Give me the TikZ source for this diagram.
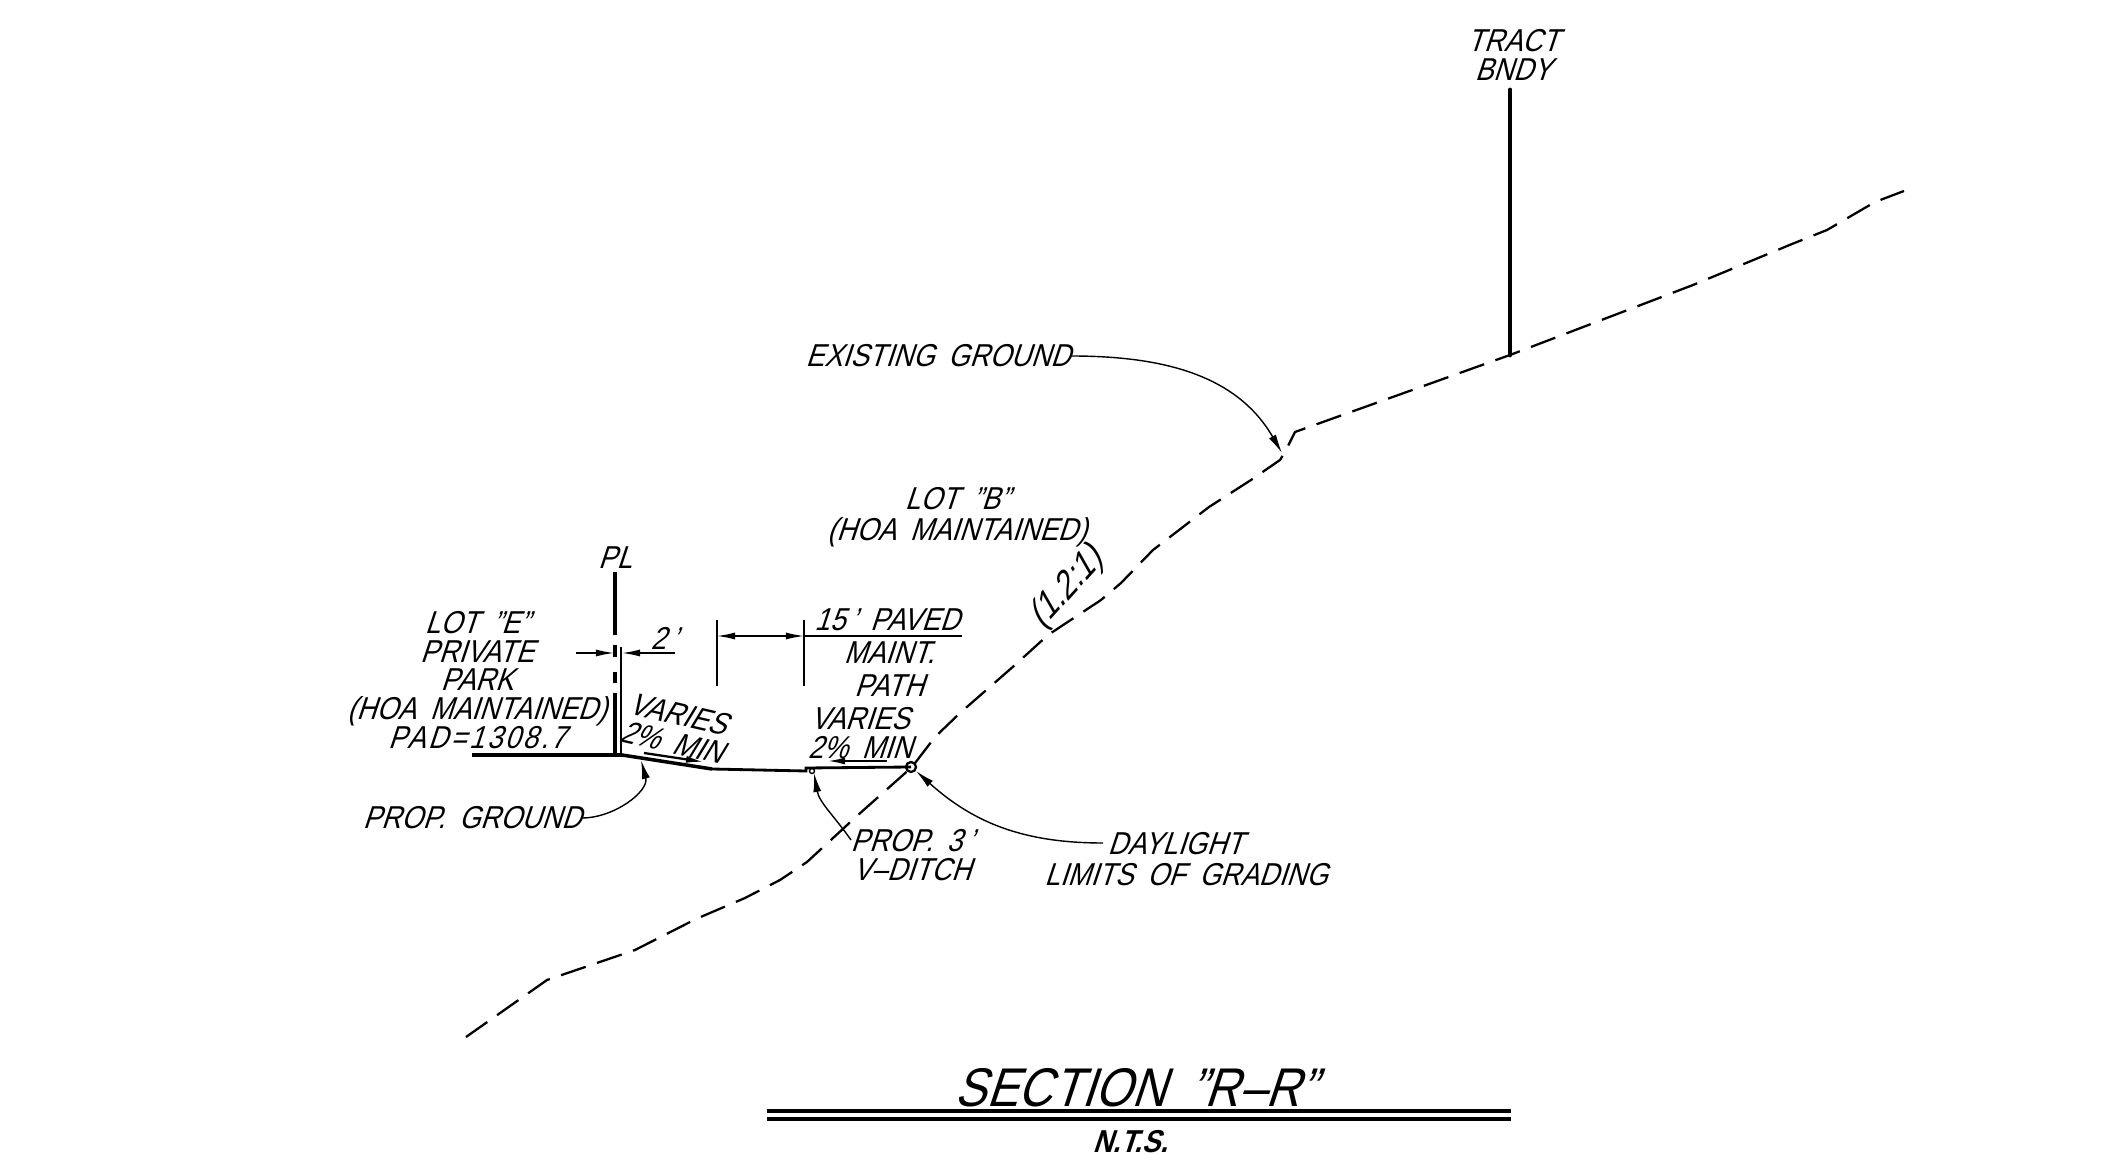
\documentclass[tikz,border=0pt]{standalone}
\usepackage{fontspec}
\usetikzlibrary{arrows.meta}
\newfontfamily\cadfont[FakeSlant=0.33,FakeStretch=0.87,WordSpace=1.8]{Liberation Sans}

\tikzset{
	lbl/.style={font=\cadfont\fontsize{9}{8.2}\selectfont, inner sep=0pt, align=center},
	bigLbl/.style={font=\cadfont\fontsize{15.5}{16}\selectfont, inner sep=0pt},
	boldLbl/.style={font=\cadfont\bfseries\fontsize{9}{10}\selectfont, inner sep=0pt},
	thin line/.style={line width=.4pt},
	mid line/.style={line width=.65pt},
	thick line/.style={line width=1pt},
	leader/.style={thin line, -{Latex[length=1.9mm,width=.8mm]}},
	dim/.style={thin line, -{Latex[length=1.8mm,width=.7mm]}},
	gnd/.style={mid line, dash pattern=on 7.4pt off 3.4pt}
}

\begin{document}
\begin{tikzpicture}[x=0.01cm, y=-0.01cm]
	\useasboundingbox (0,0) rectangle (2120,1155);

	\node [lbl] (tract)  at (1513,55)  {TRACT\\BNDY};
	\node [lbl] (pl)     at (615,558)  {PL};
	\node [lbl] (lotE)   at (477,680)  {LOT ”E”\\PRIVATE\\PARK\\(HOA MAINTAINED)\\{\addfontfeature{LetterSpace=8}PAD=1308.7}};
	\node [lbl] (lotB)   at (957,517)  {LOT ”B”\\[.6pt](HOA MAINTAINED)};
	\node [lbl] (exist)  at (938,356)  {EXISTING GROUND};
	\node [lbl] (prop)   at (472,818)  {PROP. GROUND};
	\node [lbl] (two)    at (664,638)  {2\,’};
	\node [lbl] (paved)  at (887,620)  {15\,’ PAVED};
	\node [lbl] (maint)  at (889,669)  {MAINT.\\[1pt]PATH};
	\node [lbl, rotate=-13] (varL) at (675,728) {VARIES\\2\% MIN};
	\node [lbl] (varR)   at (860,733)  {VARIES\\2\% MIN};
	\node [lbl] (ditch)  at (912,855)  {PROP. 3\,’\\V–DITCH};
	\node [lbl] (day)    at (1186,859) {DAYLIGHT\hspace*{6pt}\\[.6pt]LIMITS OF GRADING};
	\node [lbl, font=\cadfont\fontsize{10.5}{10}\selectfont, rotate=48] (slope) at (1066,589) {(1.2:1)};
	\node [bigLbl] (title) at (1135,1088) {SECTION ”R–R”};
	\node [boldLbl] (nts)  at (1130,1142) {N.T.S.};

	\coordinate (exTip)    at (1282,453);
	\coordinate (propTip)  at (641,760);
	\coordinate (ditchEnd) at (851,840);
	\coordinate (ditchTip) at (814,773);
	\coordinate (dayEnd)   at (1103,843);
	\coordinate (dayTip)   at (916,771);

	\draw [gnd] (466,1037) -- (547,980) -- (635,950) -- (696,919) -- (745,898) -- (780,880) -- (807,862) -- (858,815)
		-- (912,767) -- (935,737) -- (960,713) -- (1015,665) -- (1048,635) -- (1101,600) -- (1121,583) -- (1153,550)
		-- (1209,507) -- (1251,480) -- (1280,460)
		-- (1285,452) -- (1295,432) -- (1510,355) -- (1693,285) -- (1792,244) -- (1827,230) -- (1875,202) -- (1904,191);

	\draw [thick line, line width=1.4pt, line cap=round] (1510,90) -- (1510,355);

	\draw [thick line] (615,572) -- (615,635);
	\draw [thick line] (615,645) -- (615,657);
	\draw [thick line] (615,672) -- (615,683);
	\draw [thick line] (615,693) -- (615,755);
	\draw [thin line] (621,647) -- (621,755);
	\draw [thick line] (472,755) -- (622,755) -- (712,769);
	\draw [line width=.8pt] (712,769) -- (806,771) -- (806,768) -- (911,767);

	\node [draw, circle, mid line, minimum size=.1cm, inner sep=0pt] (day pt) at (911,767) {};
	\node [draw, circle, thin line, minimum size=.05cm, inner sep=0pt] (ditch pt) at (812,771) {};

	\coordinate (twoA) at (576,653);
	\coordinate (twoB) at (614,653);
	\coordinate (twoC) at (675,653);
	\coordinate (twoD) at (622,653);
	\draw [dim] (twoA) -- (twoB);
	\draw [dim] (twoC) -- (twoD);

	\coordinate (pathA) at (717,620);
	\coordinate (pathB) at (804,620);
	\draw [thin line] (pathA) -- (717,686);
	\draw [thin line] (pathB) -- (804,686);
	\draw [dim] (760,636) -- (717,636);
	\draw [dim] (760,636) -- (804,636);
	\draw [thin line] (804,636) -- (962,636);

	\draw [dim, mid line] (644,753) -- (704,762);
	\draw [dim, mid line] (887,761) -- (827,761);

	\draw [thick line] (767,1111) -- (1511,1111);
	\draw [thick line] (767,1119) -- (1511,1119);

	\path [leader] (exist.east) edge[out=0, in=120] (exTip);
	\path [leader] (prop.east) edge[out=0, in=-75] (propTip);
	\path [leader] (ditchEnd) edge[out=125, in=-80] (ditchTip);
	\path [leader] (dayEnd) edge[out=180, in=-42] (dayTip);
\end{tikzpicture}
\end{document}
